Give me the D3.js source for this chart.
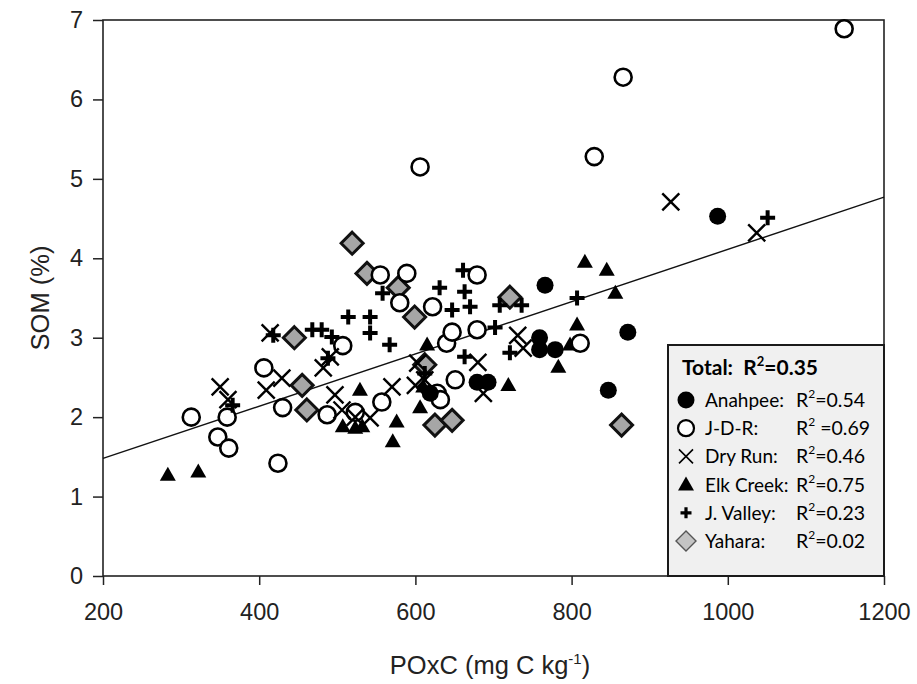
<!DOCTYPE html>
<html><head><meta charset="utf-8">
<script src="https://cdn.jsdelivr.net/npm/d3@7"></script>
<style>
body{margin:0;background:#fff;}
text{white-space:pre;}
</style></head>
<body><svg id="chart" width="917" height="684"></svg>
<script>
// ---- data ----
const xTicks = [200, 400, 600, 800, 1000, 1200];
const yTicks = [0, 1, 2, 3, 4, 5, 6, 7];
const seriesNames = ["Anahpee", "J-D-R", "Dry Run", "Elk Creek", "J. Valley", "Yahara"];
const legendLabels = ["Anahpee:", "J-D-R:", "Dry Run:", "Elk Creek:", "J. Valley:", "Yahara:"];
const legendR2 = ["=0.54", " =0.69", "=0.46", "=0.75", "=0.23", "=0.02"];
const totalR2 = "=0.35";
const regression = { intercept: 0.822, slope: 0.00329 };

const anahpee = [[766,3.66],[759,3.00],[759,2.85],[779,2.85],[872,3.07],[847,2.34],[987,4.53],[679,2.44],[693,2.44],[619,2.30]];
const jdr = [[1149,6.89],[866,6.28],[829,5.28],[606,5.15],[313,2.00],[359,2.00],[347,1.75],[361,1.61],[406,2.62],[430,2.12],[424,1.42],[487,2.03],[523,2.06],[557,2.19],[507,2.90],[555,3.79],[589,3.81],[580,3.44],[622,3.39],[679,3.79],[640,2.93],[647,3.07],[679,3.10],[811,2.93],[628,2.30],[632,2.22],[651,2.47]];
const dryRun = [[350,2.38],[409,2.34],[429,2.49],[414,3.06],[360,2.22],[482,2.62],[491,2.76],[497,2.28],[506,2.09],[523,2.00],[542,1.99],[570,2.38],[603,2.68],[612,2.47],[680,2.69],[687,2.30],[731,3.03],[738,2.87],[927,4.71],[1037,4.32],[600,2.40]];
const elkCreek = [[283,1.27],[322,1.31],[529,2.34],[507,1.88],[523,1.86],[532,1.88],[576,1.94],[571,1.69],[606,2.12],[615,2.91],[719,2.40],[783,2.63],[807,3.16],[798,2.91],[817,3.95],[845,3.85],[856,3.56],[610,2.38]];
const jValley = [[366,2.15],[418,3.03],[468,3.10],[480,3.10],[488,2.74],[493,3.01],[514,3.26],[542,3.26],[542,3.06],[567,2.91],[558,3.56],[631,3.63],[661,3.85],[663,3.58],[670,3.39],[647,3.35],[663,2.76],[721,2.81],[702,3.13],[708,3.41],[736,3.41],[807,3.50],[1051,4.51],[612,2.55]];
const yahara = [[519,4.19],[538,3.81],[578,3.63],[599,3.26],[445,3.00],[455,2.40],[461,2.09],[721,3.51],[625,1.90],[647,1.96],[864,1.90],[612,2.66]];

// ---- layout ----
const svg = d3.select("#chart");
const L = 103, R = 884, T = 20, B = 576;
const x = d3.scaleLinear().domain([200, 1200]).range([L, R]);
const y = d3.scaleLinear().domain([0, 7]).range([B, T]);
const axisFont = "'Liberation Sans', Arial, sans-serif";
const legFont = "Lato, 'Open Sans', sans-serif";

// axes
const gx = svg.append("g").attr("transform", `translate(0,${B})`)
  .call(d3.axisBottom(x).tickValues(xTicks).tickSize(9).tickPadding(18).tickFormat(d3.format("d")));
const gy = svg.append("g").attr("transform", `translate(${L},0)`)
  .call(d3.axisLeft(y).tickValues(yTicks).tickSize(10).tickPadding(10).tickFormat(d3.format("d")));
[gx, gy].forEach(g => {
  g.select(".domain").remove();
  g.selectAll("line").attr("stroke", "#222").attr("stroke-width", 1.5);
  g.selectAll("text").attr("font-family", axisFont).attr("font-size", 23.5).attr("fill", "#222");
});

// frame
svg.append("rect").attr("x", L).attr("y", T).attr("width", R - L).attr("height", B - T)
  .attr("fill", "none").attr("stroke", "#222").attr("stroke-width", 1.6);

// axis titles
const xt = svg.append("text").attr("x", 490).attr("y", 674).attr("text-anchor", "middle")
  .attr("font-family", axisFont).attr("font-size", 25.5).attr("fill", "#222");
xt.append("tspan").text("POxC (mg C kg");
xt.append("tspan").attr("font-size", 15).attr("dy", -10).text("-1");
xt.append("tspan").attr("dy", 10).text(")");
svg.append("text").attr("transform", `translate(49,${(T + B) / 2}) rotate(-90)`).attr("text-anchor", "middle")
  .attr("font-family", axisFont).attr("font-size", 25.5).attr("fill", "#222").text("SOM (%)");

// regression line
const dom = x.domain();
svg.append("line")
  .attr("x1", x(dom[0])).attr("y1", y(regression.intercept + regression.slope * dom[0]))
  .attr("x2", x(dom[1])).attr("y2", y(regression.intercept + regression.slope * dom[1]))
  .attr("stroke", "#111").attr("stroke-width", 1.4);

// markers
function marker(g, type, s) {
  if (type === "filled") g.append("circle").attr("r", 8.5 * s).attr("fill", "#000");
  else if (type === "open") g.append("circle").attr("r", 8.5 * s).attr("fill", "#fff").attr("stroke", "#000").attr("stroke-width", 2.6 * s);
  else if (type === "x") { const a = 8.5 * s; g.append("path").attr("d", `M${-a},${-a}L${a},${a}M${-a},${a}L${a},${-a}`).attr("stroke", "#000").attr("stroke-width", 2.4 * s).attr("fill", "none"); }
  else if (type === "tri") { const w = 8 * s, h = 14 * s; g.append("path").attr("d", `M0,${-h*0.6}L${w},${h*0.4}L${-w},${h*0.4}Z`).attr("fill", "#000"); }
  else if (type === "plus") { const a = 7.5 * s; g.append("path").attr("d", `M${-a},0L${a},0M0,${-a}L0,${a}`).attr("stroke", "#000").attr("stroke-width", 4 * s).attr("fill", "none"); }
  else if (type === "diamond") { const a = 11 * s; g.append("path").attr("d", `M0,${-a}L${a},0L0,${a}L${-a},0Z`).attr("fill", "#a6a6a6").attr("stroke", "#111").attr("stroke-width", 3 * s).attr("stroke-linejoin", "miter"); }
}
const series = [
  { data: yahara, type: "diamond" },
  { data: elkCreek, type: "tri" },
  { data: jdr, type: "open" },
  { data: anahpee, type: "filled" },
  { data: dryRun, type: "x" },
  { data: jValley, type: "plus" }
];
series.forEach(sr => {
  svg.append("g").selectAll("g").data(sr.data).join("g")
    .attr("transform", d => `translate(${x(d[0])},${y(d[1])})`)
    .each(function () { marker(d3.select(this), sr.type, 1); });
});

// legend
const lg = svg.append("g");
lg.append("rect").attr("x", 668).attr("y", 345).attr("width", R - 668).attr("height", B - 345)
  .attr("fill", "#f0f0f0").attr("stroke", "#1a1a1a").attr("stroke-width", 2);
const tt = lg.append("text").attr("x", 682).attr("y", 375).attr("font-family", legFont)
  .attr("font-size", 21).attr("font-weight", "bold").attr("fill", "#000");
tt.append("tspan").text("Total:  R");
tt.append("tspan").attr("font-size", 13).attr("dy", -9).text("2");
tt.append("tspan").attr("dy", 9).text(totalR2);
const legTypes = ["filled", "open", "x", "tri", "plus", "diamond"];
legendLabels.forEach((lab, i) => {
  const cy = 400 + i * 28.2;
  const mg = lg.append("g").attr("transform", `translate(686,${cy})`);
  const t = legTypes[i];
  if (t === "filled") mg.append("circle").attr("r", 8.5).attr("fill", "#000");
  else if (t === "open") mg.append("circle").attr("r", 8).attr("fill", "#fff").attr("stroke", "#000").attr("stroke-width", 2.2);
  else if (t === "x") mg.append("path").attr("d", "M-7,-7L7,7M-7,7L7,-7").attr("stroke", "#000").attr("stroke-width", 1.6);
  else if (t === "tri") mg.append("path").attr("d", "M0,-8L8,6L-8,6Z").attr("fill", "#000");
  else if (t === "plus") mg.append("path").attr("d", "M-5.5,0L5.5,0M0,-5.5L0,5.5").attr("stroke", "#000").attr("stroke-width", 3.2);
  else if (t === "diamond") mg.append("path").attr("d", "M0,-10L10,0L0,10L-10,0Z").attr("fill", "#c4c4c4").attr("stroke", "#555").attr("stroke-width", 1.4);
  lg.append("text").attr("x", 705).attr("y", cy + 7).attr("font-family", legFont).attr("font-size", 19).attr("fill", "#000").text(lab);
  const rt = lg.append("text").attr("x", 796).attr("y", cy + 7).attr("font-family", legFont).attr("font-size", 19.5).attr("fill", "#000");
  rt.append("tspan").text("R");
  rt.append("tspan").attr("font-size", 12).attr("dy", -9).text("2");
  rt.append("tspan").attr("dy", 9).text(legendR2[i]);
});
</script></body></html>
